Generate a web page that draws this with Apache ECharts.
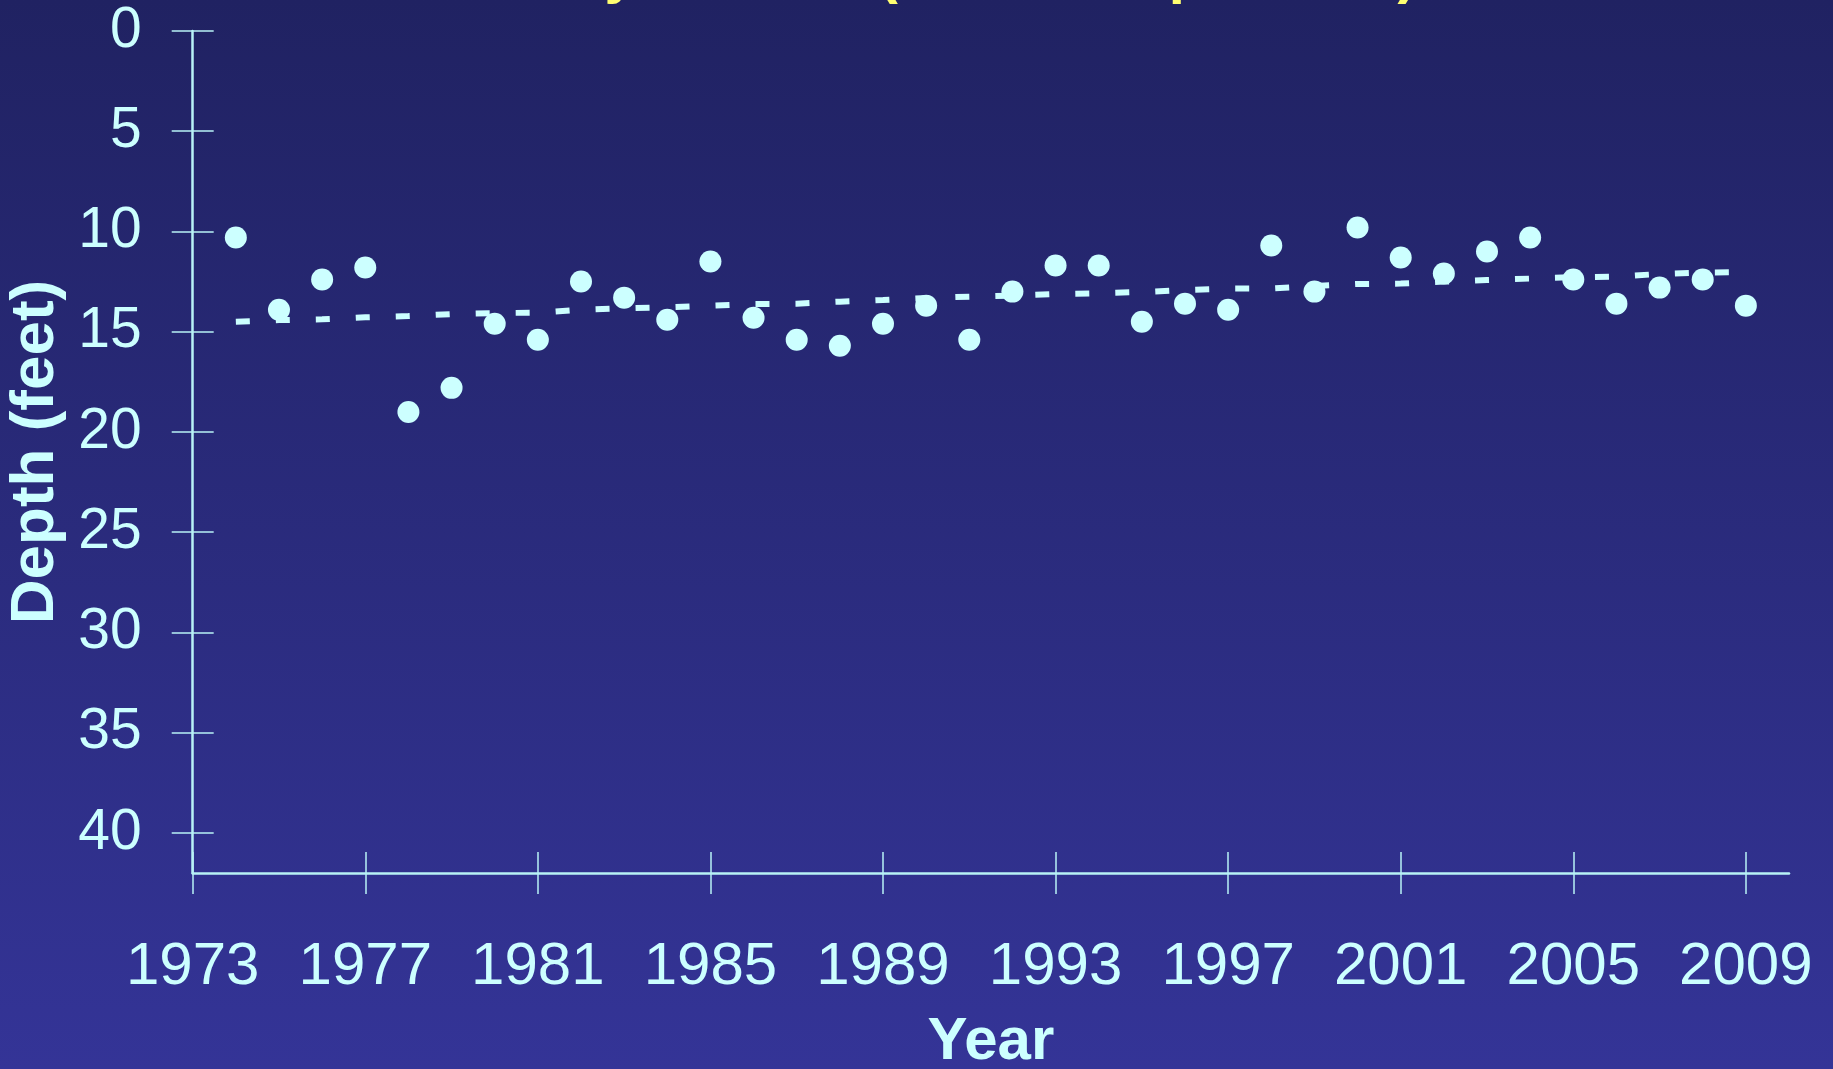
<!DOCTYPE html>
<html>
<head>
<meta charset="utf-8">
<script src="https://cdn.jsdelivr.net/npm/echarts@6/dist/echarts.min.js"></script>
<style>
html,body{margin:0;padding:0;width:1833px;height:1069px;overflow:hidden;background:#2a2a80;}
#chart{width:1833px;height:1069px;}
</style>
</head>
<body>
<div id="chart"></div>
<script>
const years = [1974,1975,1976,1977,1978,1979,1980,1981,1982,1983,1984,1985,1986,1987,1988,1989,1990,1991,
               1992,1993,1994,1995,1996,1997,1998,1999,2000,2001,2002,2003,2004,2005,2006,2007,2008,2009];
const depth = [10.3,13.9,12.4,11.8,19.0,17.8,14.6,15.4,12.5,13.3,14.4,11.5,14.3,15.4,15.7,14.6,13.7,15.4,
               13.0,11.7,11.7,14.5,13.6,13.9,10.7,13.0,9.8,11.3,12.1,11.0,10.3,12.4,13.6,12.8,12.4,13.7];
const trend = [14.5,14.42,14.38,14.28,14.22,14.12,14.07,14.05,13.9,13.83,13.78,13.7,13.62,13.6,13.5,13.42,13.32,13.25,
               13.2,13.12,13.08,13.02,12.92,12.85,12.84,12.72,12.62,12.6,12.5,12.42,12.35,12.28,12.25,12.12,12.05,12.03];
const xTicks = [1973,1977,1981,1985,1989,1993,1997,2001,2005,2009];
const yTicks = [0,5,10,15,20,25,30,35,40];
const titleText = 'Water Clarity Results (June \u2013 September)';

const FONT = '"Liberation Sans", Arial, Helvetica, sans-serif';
const FG = '#ccffff';
const AX = '#b8f2f6';

const chart = echarts.init(document.getElementById('chart'), null, {renderer:'canvas'});

const xBase = {
  type:'value', min:1973, max:2010, position:'bottom',
  splitLine:{show:false}
};
const yBase = {
  type:'value', min:0, max:42, inverse:true, position:'left',
  splitLine:{show:false}
};
const plain = v => String(v);

chart.setOption({
  animation:false,
  backgroundColor:{
    type:'linear', x:0, y:0, x2:0, y2:1,
    colorStops:[{offset:0,color:'#202262'},{offset:1,color:'#343497'}]
  },
  graphic:[{
    type:'text', x:849, y:5,
    style:{text:titleText, font:'bold 58px ' + FONT, fill:'#ffff70',
           align:'center', verticalAlign:'bottom'}
  }],
  grid:{left:192.7, top:31, right:44, bottom:196, containLabel:false, outerBoundsMode:'none'},
  xAxis:[
    Object.assign({}, xBase, {
      axisLine:{show:true, onZero:false, lineStyle:{color:AX, width:2.5}},
      axisTick:{show:true, inside:false, length:21, customValues:xTicks, lineStyle:{color:AX, width:1.5}},
      axisLabel:{show:true, customValues:xTicks, formatter:plain, color:FG, fontSize:60, fontFamily:FONT, margin:64},
      name:'Year', nameLocation:'middle', nameGap:139,
      nameTextStyle:{color:FG, fontSize:60, fontWeight:'bold', fontFamily:FONT}
    }),
    Object.assign({}, xBase, {
      axisLine:{show:false, onZero:false},
      axisTick:{show:true, inside:true, length:21, customValues:xTicks, lineStyle:{color:AX, width:1.5}},
      axisLabel:{show:false}
    })
  ],
  yAxis:[
    Object.assign({}, yBase, {
      axisLine:{show:true, onZero:false, lineStyle:{color:AX, width:2.5}},
      axisTick:{show:true, inside:false, length:21, customValues:yTicks, lineStyle:{color:AX, width:1.5}},
      axisLabel:{show:true, customValues:yTicks, formatter:plain, color:FG, fontSize:57, fontFamily:FONT, margin:51},
      name:'Depth (feet)', nameLocation:'middle', nameGap:112, nameRotate:90,
      nameTextStyle:{color:FG, fontSize:62, fontWeight:'bold', fontFamily:FONT}
    }),
    Object.assign({}, yBase, {
      axisLine:{show:false, onZero:false},
      axisTick:{show:true, inside:true, length:21, customValues:yTicks, lineStyle:{color:AX, width:1.5}},
      axisLabel:{show:false}
    })
  ],
  series:[
    {
      type:'line', xAxisIndex:0, yAxisIndex:0,
      data: years.map((y,i)=>[y, trend[i]]),
      showSymbol:false, symbol:'none',
      lineStyle:{color:FG, width:6, type:[14,26], cap:'butt'},
      z:2
    },
    {
      type:'scatter', xAxisIndex:0, yAxisIndex:0,
      data: years.map((y,i)=>[y, depth[i]]),
      symbol:'circle', symbolSize:22,
      itemStyle:{color:FG, opacity:1},
      z:3
    }
  ]
});
</script>
</body>
</html>
